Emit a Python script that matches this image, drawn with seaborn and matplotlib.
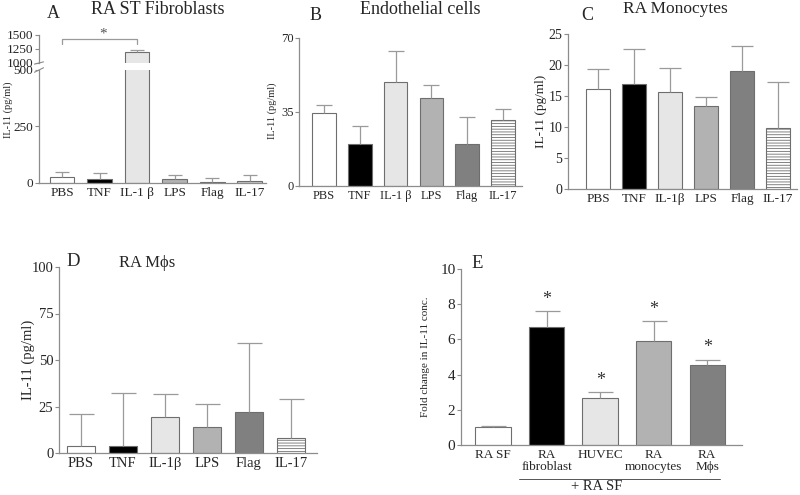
import numpy as np
import pandas as pd
import matplotlib.pyplot as plt
import seaborn as sns
from matplotlib.lines import Line2D

sns.set_style('ticks')
plt.rcParams['font.family'] = ['Liberation Serif', 'DejaVu Serif']
plt.rcParams['hatch.linewidth'] = 0.6
plt.rcParams['hatch.color'] = '#9a9a9a'

# panel A - RA ST fibroblasts
fib_labels = ['PBS', 'TNF', 'IL-1 β', 'LPS', 'Flag', 'IL-17']
fib_mean = [28, 19, 1190, 16, 3, 9]
fib_top = [49, 44, 1240, 37, 22, 37]

# panel B - endothelial cells
endo_labels = ['PBS', 'TNF', 'IL-1 β', 'LPS', 'Flag', 'IL-17']
endo_mean = [34.3, 19.9, 49.0, 41.6, 19.9, 31.1]
endo_top = [38.1, 28.4, 63.7, 47.9, 32.4, 36.5]

# panel C - RA monocytes
mono_labels = ['PBS', 'TNF', 'IL-1β', 'LPS', 'Flag', 'IL-17']
mono_mean = [16.2, 16.9, 15.6, 13.4, 19.0, 9.9]
mono_top = [19.3, 22.6, 19.5, 14.9, 23.1, 17.2]

# panel D - RA macrophages
mac_labels = ['PBS', 'TNF', 'IL-1β', 'LPS', 'Flag', 'IL-17']
mac_mean = [3.8, 3.8, 19.4, 13.8, 22.0, 7.8]
mac_top = [21.0, 32.4, 31.5, 26.1, 59.1, 29.0]

# panel E - fold change with RA SF
sf_labels = ['RA SF', 'RA\nfibroblast', 'HUVEC', 'RA\nmonocytes', 'RA\nMϕs']
sf_mean = [1.0, 6.68, 2.66, 5.92, 4.57]
sf_top = [1.1, 7.61, 3.0, 7.02, 4.84]

stim_colors = ['#ffffff', '#000000', '#e6e6e6', '#b2b2b2', '#808080', '#ffffff']
sf_colors = ['#ffffff', '#000000', '#e6e6e6', '#b2b2b2', '#808080']

W, H = 800, 495
fig = plt.figure(figsize=(8, 4.95), dpi=100)


def rect(x0, y0, x1, y1):
    return [x0 / W, 1 - y1 / H, (x1 - x0) / W, (y1 - y0) / H]


def ftext(x, y, s, **kw):
    fig.text(x / W, 1 - y / H, s, ha='center', va='center', **kw)


def bars(ax, labels, mean, top, colors, capsize, hatch=True):
    df = pd.DataFrame({'stim': labels, 'val': mean})
    sns.barplot(data=df, x='stim', y='val', hue='stim', palette=colors, legend=False,
                errorbar=None, width=0.66, edgecolor='#6e6e6e', linewidth=0.8, ax=ax)
    if hatch and len(labels) == 6:
        ax.patches[5].set_hatch('------')
    up = np.array(top) - np.array(mean)
    eb = ax.errorbar(np.arange(len(labels)), mean, yerr=[np.zeros(len(labels)), up],
                     fmt='none', ecolor='#9a9a9a', elinewidth=0.9, capsize=capsize, capthick=0.9)
    eb[1][0].set_visible(False)
    ax.set_xlabel('')
    ax.set_ylabel('')
    sns.despine(ax=ax)
    for s in ['left', 'bottom']:
        ax.spines[s].set_color('#8c8c8c')
        ax.spines[s].set_linewidth(0.9)
    ax.tick_params(axis='y', color='#8c8c8c', length=3, width=0.8, pad=1)
    ax.tick_params(axis='x', length=0, pad=3)


# A (broken axis)
axA = fig.add_axes(rect(39, 70, 266, 183))
axA2 = fig.add_axes(rect(39, 35, 266, 63))
bars(axA, fib_labels, fib_mean, fib_top, stim_colors, 5)
bars(axA2, fib_labels, fib_mean, fib_top, stim_colors, 5)
axA.set_ylim(0, 500)
axA.set_yticks([0, 250, 500])
axA2.set_ylim(1000, 1500)
axA2.set_yticks([1000, 1250, 1500])
axA2.spines['bottom'].set_visible(False)
axA2.set_xticks([])
for a in (axA, axA2):
    a.set_xlim(-0.61, 5.43)
    a.tick_params(labelsize=9.5)
axA.plot([-0.02, 0.02], [0.98, 1.02], transform=axA.transAxes, color='#8c8c8c', lw=0.8, clip_on=False)
axA2.plot([-0.02, 0.02], [-0.04, 0.04], transform=axA2.transAxes, color='#8c8c8c', lw=0.8, clip_on=False)
axA2.plot([0, 0, 2, 2], [1340, 1430, 1430, 1340], color='#9a9a9a', lw=0.9, clip_on=False)
axA2.text(1.1, 1510, '*', ha='center', va='center', fontsize=11, color='#555555')
ftext(53, 14, 'A', fontsize=13)
ftext(158, 10, 'RA ST Fibroblasts', fontsize=13)
ftext(8, 110, 'IL-11 (pg/ml)', fontsize=7.5, rotation=90)

# B
axB = fig.add_axes(rect(299, 38, 522, 186))
bars(axB, endo_labels, endo_mean, endo_top, stim_colors, 6)
axB.set_ylim(0, 70)
axB.set_yticks([0, 35, 70])
axB.set_xlim(-0.7, 5.53)
axB.tick_params(labelsize=9)
ftext(316, 16, 'B', fontsize=13)
ftext(420, 9, 'Endothelial cells', fontsize=13)
ftext(272, 111, 'IL-11 (pg/ml)', fontsize=7.5, rotation=90)

# C
axC = fig.add_axes(rect(568, 34, 797, 189))
bars(axC, mono_labels, mono_mean, mono_top, stim_colors, 8)
axC.set_ylim(0, 25)
axC.set_yticks([0, 5, 10, 15, 20, 25])
axC.set_xlim(-0.84, 5.53)
axC.tick_params(axis='y', labelsize=10)
axC.tick_params(axis='x', labelsize=9.5)
ftext(587, 16, 'C', fontsize=13)
ftext(675, 9, 'RA Monocytes', fontsize=12.5)
ftext(541, 111, 'IL-11 (pg/ml)', fontsize=9.5, rotation=90)

# D
axD = fig.add_axes(rect(59, 267, 317, 453))
bars(axD, mac_labels, mac_mean, mac_top, stim_colors, 9)
axD.set_ylim(0, 100)
axD.set_yticks([0, 25, 50, 75, 100])
axD.set_xlim(-0.52, 5.62)
axD.tick_params(labelsize=10.5)
ftext(73, 262, 'D', fontsize=13.5)
ftext(147, 263, 'RA Mϕs', fontsize=12)
ftext(28, 360, 'IL-11 (pg/ml)', fontsize=10.5, rotation=90)

# E
axE = fig.add_axes(rect(461, 269, 742, 445))
bars(axE, sf_labels, sf_mean, sf_top, sf_colors, 9, hatch=False)
axE.set_ylim(0, 10)
axE.set_yticks([0, 2, 4, 6, 8, 10])
axE.set_xlim(-0.6, 4.65)
axE.tick_params(axis='y', labelsize=11)
axE.tick_params(axis='x', labelsize=9.5)
for t in axE.get_xticklabels():
    t.set_linespacing(0.95)
for i in range(1, len(sf_labels)):
    axE.text(i, sf_top[i] + 0.2, '*', ha='center', va='bottom', fontsize=13, color='#333333')
ftext(477, 264, 'E', fontsize=13.5)
ftext(426, 357, 'Fold change in IL-11 conc.', fontsize=8, rotation=90)
fig.add_artist(Line2D([519 / W, 720 / W], [1 - 479 / H, 1 - 479 / H], color='#555555', lw=0.7))
ftext(597, 487, '+ RA SF', fontsize=10.5)

fig.savefig('out.png', dpi=100)
